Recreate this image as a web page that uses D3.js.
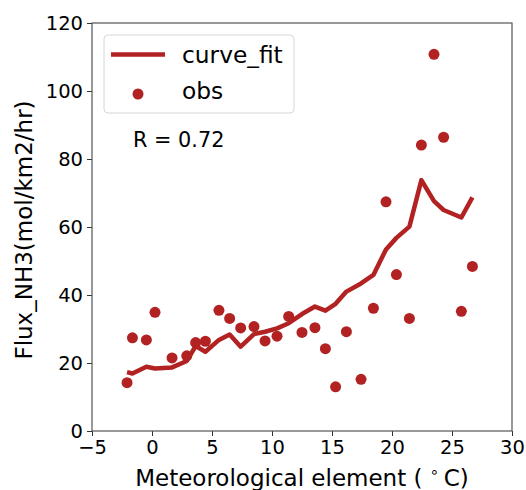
<!DOCTYPE html>
<html>
<head>
<meta charset="utf-8">
<script src="https://cdn.jsdelivr.net/npm/d3@7"></script>
<style>
  body { margin: 0; background: #fff; }
  svg { font-family: "DejaVu Sans", sans-serif; }
</style>
</head>
<body>
<div id="chart"></div>
<script>
// Observed points: temperature (°C) vs NH3 flux
const obsX = [-2.08, -1.63, -0.47, 0.25, 1.67, 2.9, 3.64, 4.45, 5.58, 6.47,
              7.39, 8.5, 9.42, 10.42, 11.39, 12.5, 13.58, 14.45, 15.3, 16.2,
              17.42, 18.45, 19.5, 20.37, 21.45, 22.45, 23.5, 24.3, 25.78, 26.7];
const obsY = [14.2, 27.4, 26.8, 34.9, 21.5, 22.1, 26.0, 26.4, 35.5, 33.1,
              30.3, 30.7, 26.5, 27.9, 33.7, 29.0, 30.4, 24.2, 13.0, 29.2,
              15.2, 36.1, 67.4, 46.0, 33.1, 84.1, 110.8, 86.4, 35.2, 48.4];
// Fitted curve, evaluated at the sorted obs temperatures
const fitX = obsX.slice().sort((a, b) => a - b);
const fitY = [17.3, 16.9, 18.9, 18.4, 18.7, 20.6, 25.0, 23.3, 26.8, 28.4,
              24.8, 28.5, 29.2, 30.2, 31.7, 34.4, 36.6, 35.4, 37.4, 41.0,
              43.4, 45.9, 53.4, 56.8, 60.1, 73.8, 67.6, 65.0, 62.8, 68.7];

const xTicks = [-5, 0, 5, 10, 15, 20, 25, 30];
const yTicks = [0, 20, 40, 60, 80, 100, 120];
const rText = 'R = 0.72';

const width = 526, height = 490;
const margin = { top: 23, right: 14, bottom: 59, left: 92 };
const color = '#b22222';

const svg = d3.select('#chart').append('svg')
    .attr('width', width)
    .attr('height', height);

const x = d3.scaleLinear().domain([-5, 30]).range([margin.left, width - margin.right]);
const y = d3.scaleLinear().domain([0, 120]).range([height - margin.bottom, margin.top]);

// axes
const xAxis = svg.append('g')
    .attr('transform', `translate(0,${y(0)})`)
    .call(d3.axisBottom(x).tickValues(xTicks).tickSize(5).tickPadding(4)
        .tickFormat(d => d < 0 ? '\u2212' + Math.abs(d) : d));
const yAxis = svg.append('g')
    .attr('transform', `translate(${x(-5)},0)`)
    .call(d3.axisLeft(y).tickValues(yTicks).tickSize(5).tickPadding(4));

[xAxis, yAxis].forEach(a => {
    a.select('.domain').remove();
    a.selectAll('line').attr('stroke', '#333').attr('stroke-width', 1);
    a.selectAll('text').attr('font-size', 19.5).attr('fill', '#000')
        .attr('font-family', '"DejaVu Sans", sans-serif');
});

// frame
svg.append('rect')
    .attr('x', x(-5)).attr('y', y(120))
    .attr('width', x(30) - x(-5)).attr('height', y(0) - y(120))
    .attr('fill', 'none').attr('stroke', '#555').attr('stroke-width', 1.2);

// fit line
const line = d3.line().x(d => x(d[0])).y(d => y(d[1]));
svg.append('path')
    .datum(fitX.map((v, i) => [v, fitY[i]]))
    .attr('d', line)
    .attr('fill', 'none')
    .attr('stroke', color)
    .attr('stroke-width', 4.5)
    .attr('stroke-linejoin', 'round');

// obs points
svg.append('g').selectAll('circle')
    .data(obsX.map((v, i) => [v, obsY[i]]))
    .enter().append('circle')
    .attr('cx', d => x(d[0]))
    .attr('cy', d => y(d[1]))
    .attr('r', 5.5)
    .attr('fill', color);

// legend
const lg = svg.append('g');
lg.append('rect')
    .attr('x', 104).attr('y', 35).attr('width', 190).attr('height', 78)
    .attr('rx', 4).attr('fill', '#fff').attr('fill-opacity', 0.8)
    .attr('stroke', '#d6d6d6');
lg.append('line')
    .attr('x1', 111).attr('x2', 165).attr('y1', 54.5).attr('y2', 54.5)
    .attr('stroke', color).attr('stroke-width', 4.5);
lg.append('circle')
    .attr('cx', 138).attr('cy', 94).attr('r', 5.5).attr('fill', color);
lg.append('text').attr('x', 182).attr('y', 63).attr('font-size', 23.3).text('curve_fit');
lg.append('text').attr('x', 182).attr('y', 99).attr('font-size', 23.3).text('obs');

svg.append('text')
    .attr('x', 133).attr('y', 147).attr('font-size', 20.8)
    .text(rText);

// axis labels
const xl = svg.append('text')
    .attr('x', (x(-5) + x(30)) / 2).attr('y', 486)
    .attr('text-anchor', 'middle').attr('font-size', 23);
xl.append('tspan').text('Meteorological element ( ');
xl.append('tspan').attr('font-size', 15).attr('dy', -9).text('\u2218');
xl.append('tspan').attr('dy', 9).text('\u2009C)');

svg.append('text')
    .attr('transform', `translate(32,${(y(0) + y(120)) / 2 + 3}) rotate(-90)`)
    .attr('text-anchor', 'middle').attr('font-size', 23)
    .text('Flux_NH3(mol/km2/hr)');
</script>
</body>
</html>
